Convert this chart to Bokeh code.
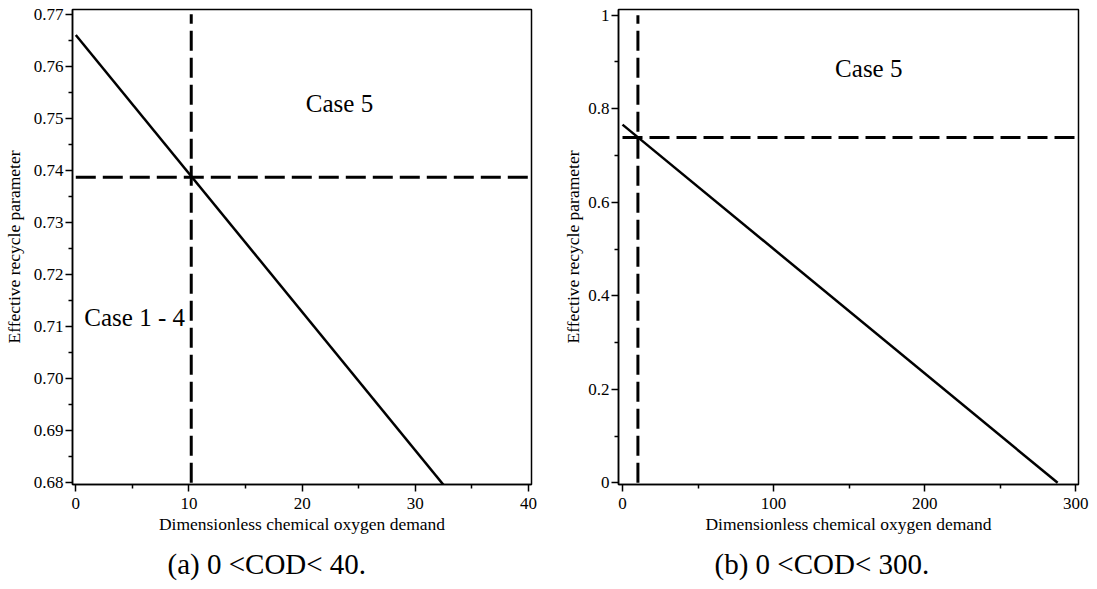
from bokeh.plotting import figure
from bokeh.layouts import row
from bokeh.models import Range1d, FixedTicker, Title, ColumnDataSource
from bokeh.core.properties import value
from bokeh.embed import file_html
from bokeh.resources import INLINE

# ---------------- data ----------------
# solid line: effective recycle parameter vs dimensionless COD
cod_line = [0.0, 288.0]
r_line = [0.766, 0.0]

# critical values (dashed lines)
cod_crit = 10.2
r_crit = 0.7387

# panel (a) axes
x_ticks_a = [0, 10, 20, 30, 40]
x_minor_a = [5, 15, 25, 35]
y_ticks_a = [0.68, 0.69, 0.70, 0.71, 0.72, 0.73, 0.74, 0.75, 0.76, 0.77]
y_tick_labels_a = ["0.68", "0.69", "0.70", "0.71", "0.72", "0.73", "0.74", "0.75", "0.76", "0.77"]
y_minor_a = [0.685, 0.695, 0.705, 0.715, 0.725, 0.735, 0.745, 0.755, 0.765]
case_text_a = ["Case 5", "Case 1 - 4"]
case_x_a = [23.3, 5.2]
case_y_a = [0.7528, 0.7117]

# panel (b) axes
x_ticks_b = [0, 100, 200, 300]
x_minor_b = [50, 150, 250]
y_ticks_b = [0, 0.2, 0.4, 0.6, 0.8, 1]
y_tick_labels_b = ["0", "0.2", "0.4", "0.6", "0.8", "1"]
y_minor_b = [0.1, 0.3, 0.5, 0.7, 0.9]
case_text_b = ["Case 5"]
case_x_b = [163.0]
case_y_b = [0.885]

x_label = "Dimensionless chemical oxygen demand"
y_label = "Effective recycle parameter"
caption_a = "(a) 0 <COD< 40."
caption_b = "(b) 0 <COD< 300."

FONT = "Liberation Serif"


def make_panel(width, border_left, border_right, xr, yr, xt, xm, yt, ym, ylabels,
               ylabel_standoff, ctext, cx, cy, caption, cap_offset):
    p = figure(width=width, height=589, x_range=Range1d(*xr), y_range=Range1d(*yr),
               output_backend="svg", toolbar_location=None,
               min_border_left=border_left, min_border_right=border_right,
               min_border_top=9, min_border_bottom=105)
    p.background_fill_color = "white"
    p.border_fill_color = "white"
    p.outline_line_color = "black"
    p.outline_line_width = 1.5
    p.outline_line_alpha = 1.0
    p.xgrid.visible = False
    p.ygrid.visible = False

    p.xaxis.ticker = FixedTicker(ticks=xt, minor_ticks=xm)
    p.yaxis.ticker = FixedTicker(ticks=yt, minor_ticks=ym)
    p.yaxis.major_label_overrides = {t: l for t, l in zip(yt, ylabels)}
    p.xaxis.major_label_overrides = {t: str(t) for t in xt}

    for ax in (p.xaxis[0], p.yaxis[0]):
        ax.axis_line_color = "black"
        ax.axis_line_width = 1.5
        ax.major_tick_line_color = "black"
        ax.major_tick_line_width = 1.5
        ax.major_tick_out = 7
        ax.major_tick_in = 0
        ax.minor_tick_line_color = "black"
        ax.minor_tick_line_width = 1.5
        ax.minor_tick_out = 4
        ax.minor_tick_in = 0
        ax.major_label_text_font = FONT
        ax.major_label_text_font_size = "17px"
        ax.major_label_text_color = "black"
        ax.axis_label_text_font = FONT
        ax.axis_label_text_font_size = "17.5px"
        ax.axis_label_text_font_style = "normal"
        ax.axis_label_text_color = "black"
        ax.major_label_standoff = 2

    p.xaxis.major_label_standoff = 6
    p.xaxis.axis_label = x_label
    p.yaxis.axis_label = y_label
    p.xaxis.axis_label_standoff = 2
    p.yaxis.axis_label_standoff = ylabel_standoff

    # solid curve
    p.line(cod_line, r_line, line_color="black", line_width=2.5)
    # dashed critical lines spanning the labelled data range
    p.line([xt[0], xt[-1]], [r_crit, r_crit], line_color="black", line_width=3,
           line_dash="20 7")
    p.line([cod_crit, cod_crit], [yt[0], yt[-1]], line_color="black", line_width=3,
           line_dash="20 7")

    src = ColumnDataSource(dict(x=cx, y=cy, t=ctext))
    p.text(x="x", y="y", text="t", source=src, text_font=value(FONT),
           text_font_size="25px", text_align="center", text_baseline="middle",
           text_color="black")

    cap = Title(text=caption, align="left", offset=cap_offset, standoff=18,
                text_font=FONT, text_font_size="29px", text_font_style="normal",
                text_color="black")
    p.add_layout(cap, "below")
    return p


pa = make_panel(560, 72, 29, (-0.29, 40.26), (0.67967, 0.7709),
                x_ticks_a, x_minor_a, y_ticks_a, y_minor_a, y_tick_labels_a, 7,
                case_text_a, case_x_a, case_y_a, caption_a, 95)
pb = make_panel(537, 58, 19, (-2.65, 301.8), (-0.0036, 1.0122),
                x_ticks_b, x_minor_b, y_ticks_b, y_minor_b, y_tick_labels_b, 2,
                case_text_b, case_x_b, case_y_b, caption_b, 96)

layout = row(pa, pb)
open("out.html", "w").write(file_html(layout, INLINE))
